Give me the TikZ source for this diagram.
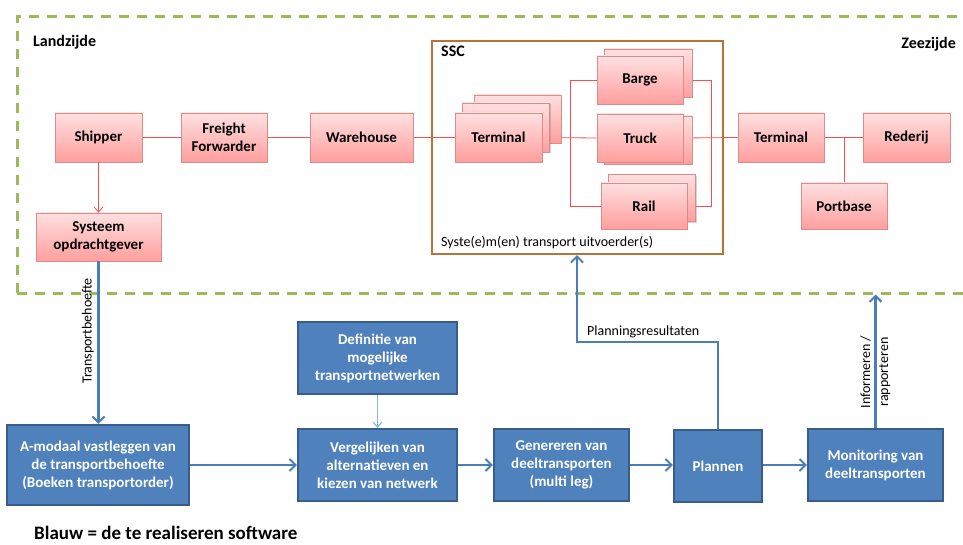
\documentclass[tikz,border=0pt]{standalone}
\usepackage{fontspec}
\setmainfont{Carlito}
\usetikzlibrary{arrows.meta,shadows}
\pgfdeclarelayer{background}
\pgfsetlayers{background,main}

\definecolor{redtop}{HTML}{FFE0E0}
\definecolor{redbot}{HTML}{FF9E9E}
\definecolor{redborder}{HTML}{D98C8A}
\definecolor{redline}{HTML}{FF4B4B}
\definecolor{bluefill}{HTML}{4F81BD}
\definecolor{bluedark}{HTML}{385D8A}
\definecolor{blueline}{HTML}{4A7EBB}
\definecolor{bluelight}{HTML}{8DB3E2}
\definecolor{greendash}{HTML}{9BBB59}
\definecolor{brownframe}{HTML}{B8733A}

\tikzset{
  redbox/.style={draw=redborder, line width=0.8pt, top color=redtop, bottom color=redbot,
    drop shadow={shadow xshift=1.2pt, shadow yshift=-1.5pt, opacity=0.35},
    align=center, inner sep=0pt, font=\bfseries\fontsize{15}{18}\selectfont},
  bluebox/.style={draw=bluedark, line width=2.2pt, fill=bluefill, text=white,
    align=center, inner sep=0pt, font=\bfseries\fontsize{15}{18}\selectfont},
  redlink/.style={draw=redline, line width=0.8pt},
  bluelink/.style={draw=blueline, line width=2.2pt, -{Straight Barb[length=6pt,width=12pt,line width=2pt]}},
  sidelabel/.style={font=\fontsize{14}{16}\selectfont, inner sep=0pt},
  heading/.style={font=\bfseries\fontsize{16}{18}\selectfont, inner sep=0pt}
}

\begin{document}
\begin{tikzpicture}[x=1pt,y=-1pt]
\useasboundingbox (0,0) rectangle (963,545);
\clip (0,0) rectangle (963,545);

% land/sea side frame (open to the right)
\node[draw=greendash, line width=3pt, dash pattern=on 10pt off 8pt,
  minimum width=980pt, minimum height=276pt, inner sep=0pt] (frame) at (507,155) {};
\node[heading, anchor=west] (land) at (33,42) {Landzijde};
\node[heading, anchor=east] (zee) at (956,44) {Zeezijde};

% SSC frame
\node[draw=brownframe, line width=2.2pt, minimum width=291pt, minimum height=213pt, inner sep=0pt] (ssc) at (577.5,147.5) {};
\node[heading, anchor=west] (ssclabel) at (441,51) {SSC};
\node[sidelabel, anchor=west] (ssctext) at (441,243) {Syste(e)m(en) transport uitvoerder(s)};

% land side chain
\node[redbox, minimum width=87pt, minimum height=49pt] (shipper) at (98.5,137.5) {Shipper};
\node[redbox, minimum width=86pt, minimum height=49pt] (ff) at (224,137.5) {Freight\\Forwarder};
\node[redbox, minimum width=103pt, minimum height=49pt] (warehouse) at (361.5,137.5) {Warehouse};
\node[redbox, minimum width=125pt, minimum height=48pt] (systeem) at (98.5,237) {Systeem\\opdrachtgever};

% terminals (stacked)
\node[redbox, minimum width=87pt, minimum height=48pt] (termC) at (517.5,119) {};
\node[redbox, minimum width=87pt, minimum height=49pt] (termB) at (506,127.5) {};
\node[redbox, minimum width=87pt, minimum height=49pt] (term) at (498.5,137.5) {Terminal};

% modalities (stacked)
\node[redbox, minimum width=88pt, minimum height=48pt] (bargeB) at (648,73) {};
\node[redbox, minimum width=86pt, minimum height=48pt] (barge) at (640,80) {Barge};
\node[redbox, minimum width=88pt, minimum height=48pt] (truckB) at (648,140) {};
\node[redbox, minimum width=86pt, minimum height=48pt] (truck) at (640,138) {Truck};
\node[redbox, minimum width=87pt, minimum height=47pt] (railB) at (652,198) {};
\node[redbox, minimum width=86pt, minimum height=46pt] (rail) at (644,206) {Rail};

% sea side
\node[redbox, minimum width=86pt, minimum height=49pt] (term2) at (781,137.5) {Terminal};
\node[redbox, minimum width=87pt, minimum height=49pt] (rederij) at (906.5,137.5) {Rederij};
\node[redbox, minimum width=86pt, minimum height=46pt] (portbase) at (844,206) {Portbase};

\coordinate (lbus) at (570,0);
\coordinate (rbus) at (711,0);

\begin{pgfonlayer}{background}
  \draw[redlink] (shipper) -- (ff);
  \draw[redlink] (ff) -- (warehouse);
  \draw[redlink] (warehouse) -- (term);
  \draw[redlink] (term.east) -- (truck.west);
  \draw[redlink] (barge.west) -- (barge.west -| lbus) -- (rail.west -| lbus) -- (rail.west);
  \draw[redlink] (barge.east) -- (barge.east -| rbus) -- (rail.east -| rbus) -- (rail.east);
  \draw[redlink] (truck.east) -- (term2.west);
  \draw[redlink] (term2) -- (rederij);
  \draw[redlink] (portbase.north) -- (portbase.north |- rederij.west);
\end{pgfonlayer}
\draw[redlink, -{Straight Barb[length=5pt,width=9pt]}] (shipper.south) -- (shipper.south |- systeem.north);

% software components
\node[bluebox, minimum width=182pt, minimum height=80pt] (amodaal) at (98,465) {A-modaal vastleggen van\\de transportbehoefte\\(Boeken transportorder)};
\node[bluebox, minimum width=159pt, minimum height=72pt] (definitie) at (377.5,358) {Definitie van\\mogelijke\\transportnetwerken};
\node[bluebox, minimum width=159pt, minimum height=72pt] (vergelijken) at (377.5,465) {Vergelijken van\\alternatieven en\\kiezen van netwerk};
\node[bluebox, minimum width=135pt, minimum height=72pt] (genereren) at (561.5,465) {Genereren van\\deeltransporten\\(multi leg)};
\node[bluebox, minimum width=88pt, minimum height=72pt] (plannen) at (718,466) {Plannen};
\node[bluebox, minimum width=135pt, minimum height=72pt] (monitoring) at (875.5,465) {Monitoring van\\deeltransporten};

\draw[bluelink] (systeem.south) -- (systeem.south |- amodaal.north);
\node[sidelabel, rotate=90] (lbltb) at (88,331) {Transportbehoefte};

\draw[bluelink] (amodaal.east |- vergelijken.west) -- (vergelijken.west);
\draw[bluelink] (vergelijken) -- (genereren);
\draw[bluelink] (genereren) -- (plannen.west |- genereren.east);
\draw[bluelink] (plannen.east |- monitoring.west) -- (monitoring.west);
\draw[draw=bluelight, line width=1.1pt, -{Straight Barb[length=5pt,width=9pt]}] (definitie) -- (vergelijken);

\coordinate (pbend) at (577,342);
\draw[bluelink] (plannen.north) |- (pbend) -- (pbend |- ssc.south);
\node[sidelabel, anchor=west] (lblplan) at (587,332) {Planningsresultaten};

\draw[bluelink] (monitoring.north) -- (monitoring.north |- frame.south);
\node[sidelabel, rotate=90, align=center, font=\fontsize{14}{18}\selectfont] (lblinfo) at (875.5,372) {Informeren /\\rapporteren};

\node[heading, anchor=west, font=\bfseries\fontsize{19}{21}\selectfont] (legend) at (34,533) {Blauw = de te realiseren software};
\end{tikzpicture}
\end{document}
